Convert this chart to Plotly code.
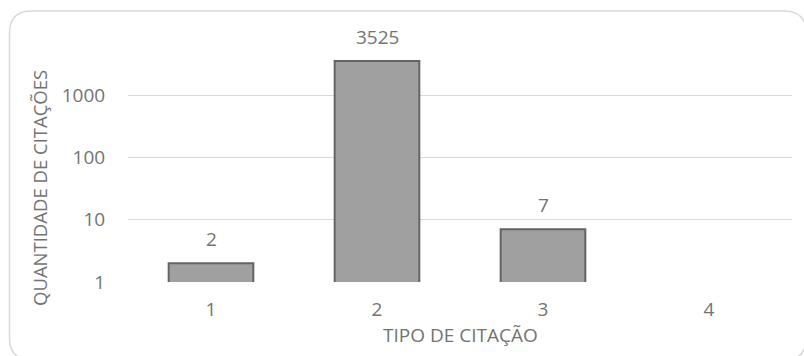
import plotly.graph_objects as go
import math

# Citation counts per citation type
categories = ["1", "2", "3", "4"]
counts = [2, 3525, 7, None]
y_tick_values = [1, 10, 100, 1000]
y_tick_labels = ["1", "10", "100", "1000"]

x_title = "TIPO DE CITAÇÃO"
y_title = "QUANTIDADE DE CITAÇÕES"

W, H = 804, 356
ML, MR, MT, MB = 128, 12, 20, 74
PW, PH = W - ML - MR, H - MT - MB

TEXT = "#737373"
FONT = "Open Sans"


def px_x(px):
    return (px - ML) / PW


def px_y(py):
    return (H - MB - py) / PH


fig = go.Figure()
fig.add_trace(go.Bar(
    x=categories,
    y=counts,
    width=0.51,
    marker=dict(color="#a0a0a0", line=dict(color="#646464", width=2)),
    hoverinfo="x+y",
))

# Value labels above each bar (category axis positions are indices)
for idx, val in enumerate(counts):
    if val is None:
        continue
    fig.add_annotation(
        x=idx, y=math.log10(val), xref="x", yref="y",
        text=str(val), showarrow=False, yanchor="bottom", yshift=9,
        font=dict(family=FONT, size=19, color=TEXT),
    )

# Axis titles
fig.add_annotation(
    x=px_x(460), y=px_y(335), xref="paper", yref="paper",
    text=x_title, showarrow=False, xanchor="center", yanchor="middle",
    font=dict(family=FONT, size=19, color=TEXT),
)
fig.add_annotation(
    x=px_x(39), y=px_y(188), xref="paper", yref="paper",
    text=y_title, showarrow=False, textangle=-90,
    xanchor="center", yanchor="middle",
    font=dict(family=FONT, size=18.5, color=TEXT),
)

# Rounded chart-area border
x0, y0, x1, y1, r = 9.5, 11, 806, 360, 22
path = (
    f"M {px_x(x0 + r)},{px_y(y0)} L {px_x(x1 - r)},{px_y(y0)} "
    f"Q {px_x(x1)},{px_y(y0)} {px_x(x1)},{px_y(y0 + r)} "
    f"L {px_x(x1)},{px_y(y1 - r)} Q {px_x(x1)},{px_y(y1)} {px_x(x1 - r)},{px_y(y1)} "
    f"L {px_x(x0 + r)},{px_y(y1)} Q {px_x(x0)},{px_y(y1)} {px_x(x0)},{px_y(y1 - r)} "
    f"L {px_x(x0)},{px_y(y0 + r)} Q {px_x(x0)},{px_y(y0)} {px_x(x0 + r)},{px_y(y0)} Z"
)
fig.add_shape(type="path", path=path, xref="paper", yref="paper",
              line=dict(color="#d9d9d9", width=1.5), layer="below")

fig.update_layout(
    width=W, height=H,
    margin=dict(l=ML, r=MR, t=MT, b=MB),
    paper_bgcolor="white", plot_bgcolor="white",
    showlegend=False,
    bargap=0.49,
    font=dict(family=FONT, color=TEXT),
)
fig.update_xaxes(
    type="category", showgrid=False, zeroline=False, showline=False,
    ticks="outside", ticklen=10, tickcolor="rgba(0,0,0,0)",
    tickfont=dict(family=FONT, size=19, color=TEXT),
)
fig.update_yaxes(
    type="log", range=[0, 4.205],
    tickvals=y_tick_values, ticktext=y_tick_labels,
    showgrid=True, gridcolor="#d9d9d9", gridwidth=1,
    zeroline=False, showline=False,
    ticks="outside", ticklen=18, tickcolor="rgba(0,0,0,0)",
    tickfont=dict(family=FONT, size=19, color=TEXT),
)

fig.write_html("out.html")
